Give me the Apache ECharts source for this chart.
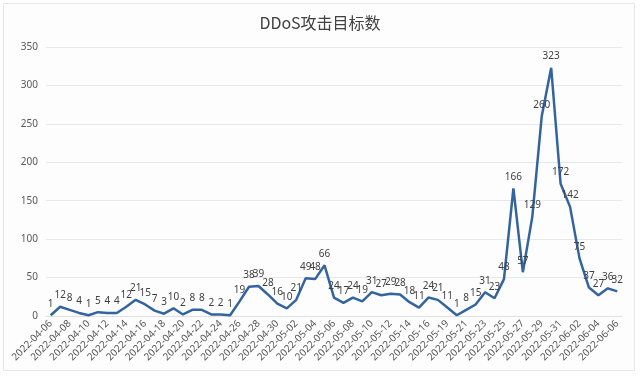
<!DOCTYPE html>
<html>
<head>
<meta charset="utf-8">
<script src="https://cdn.jsdelivr.net/npm/echarts@6/dist/echarts.min.js"></script>
<style>
  html, body { margin: 0; padding: 0; background: #ffffff; }
  #main { width: 640px; height: 377px; }
</style>
</head>
<body>
<div id="main"></div>
<script>
// 日期（5月17日缺失）
const dates = [
  '2022-04-06', '2022-04-07', '2022-04-08', '2022-04-09', '2022-04-10', '2022-04-11',
  '2022-04-12', '2022-04-13', '2022-04-14', '2022-04-15', '2022-04-16', '2022-04-17',
  '2022-04-18', '2022-04-19', '2022-04-20', '2022-04-21', '2022-04-22', '2022-04-23',
  '2022-04-24', '2022-04-25', '2022-04-26', '2022-04-27', '2022-04-28', '2022-04-29',
  '2022-04-30', '2022-05-01', '2022-05-02', '2022-05-03', '2022-05-04', '2022-05-05',
  '2022-05-06', '2022-05-07', '2022-05-08', '2022-05-09', '2022-05-10', '2022-05-11',
  '2022-05-12', '2022-05-13', '2022-05-14', '2022-05-15', '2022-05-16', '2022-05-18',
  '2022-05-19', '2022-05-20', '2022-05-21', '2022-05-22', '2022-05-23', '2022-05-24',
  '2022-05-25', '2022-05-26', '2022-05-27', '2022-05-28', '2022-05-29', '2022-05-30',
  '2022-05-31', '2022-06-01', '2022-06-02', '2022-06-03', '2022-06-04', '2022-06-05',
  '2022-06-06'
];

const targets = [
  1, 12, 8, 4, 1, 5, 4, 4, 12, 21, 15, 7, 3, 10, 2, 8, 8, 2, 2, 1,
  19, 38, 39, 28, 16, 10, 21, 49, 48, 66, 24, 17, 24, 19, 31, 27, 29, 28, 18, 11,
  24, 21, 11, 1, 8, 15, 31, 23, 48, 166, 57, 129, 260, 323, 172, 142, 75, 37, 27, 36,
  32
];

const chart = echarts.init(document.getElementById('main'));

const option = {
  backgroundColor: '#ffffff',
  graphic: [{
    type: 'rect',
    left: 3,
    top: 3,
    shape: { width: 631, height: 367 },
    style: { fill: '#fdfdfe', stroke: '#e4e6ea', lineWidth: 1 },
    z: -10
  }],
  title: {
    text: 'DDoS攻击目标数',
    left: 'center',
    top: 10,
    textStyle: {
      fontFamily: 'Noto Sans CJK SC',
      fontWeight: 'normal',
      fontSize: 16,
      color: '#404040'
    }
  },
  grid: {
    left: 46,
    right: 18,
    top: 47,
    bottom: 61
  },
  xAxis: {
    type: 'category',
    data: dates,
    boundaryGap: true,
    axisLine: { lineStyle: { color: '#e0e0e0' } },
    axisTick: { show: false },
    axisLabel: {
      interval: 1,
      rotate: 45,
      color: '#595959',
      fontSize: 10,
      fontFamily: 'Noto Sans',
      margin: 6
    }
  },
  yAxis: {
    type: 'value',
    min: 0,
    max: 350,
    interval: 50,
    axisLine: { show: false },
    axisTick: { show: false },
    axisLabel: {
      color: '#595959',
      fontSize: 10,
      fontFamily: 'Noto Sans',
      margin: 8
    },
    splitLine: { lineStyle: { color: '#e6e8ec' } }
  },
  series: [{
    name: 'DDoS攻击目标数',
    type: 'line',
    data: targets,
    symbol: 'circle',
    symbolSize: 1,
    showSymbol: true,
    showAllSymbol: true,
    lineStyle: { color: '#33649f', width: 2.5 },
    itemStyle: { color: 'rgba(0,0,0,0)', borderWidth: 0 },
    label: {
      show: true,
      position: 'top',
      distance: 6,
      color: '#404040',
      fontSize: 10,
      fontFamily: 'Noto Sans'
    },
    labelLayout: { hideOverlap: false }
  }]
};

chart.setOption(option);
</script>
</body>
</html>
